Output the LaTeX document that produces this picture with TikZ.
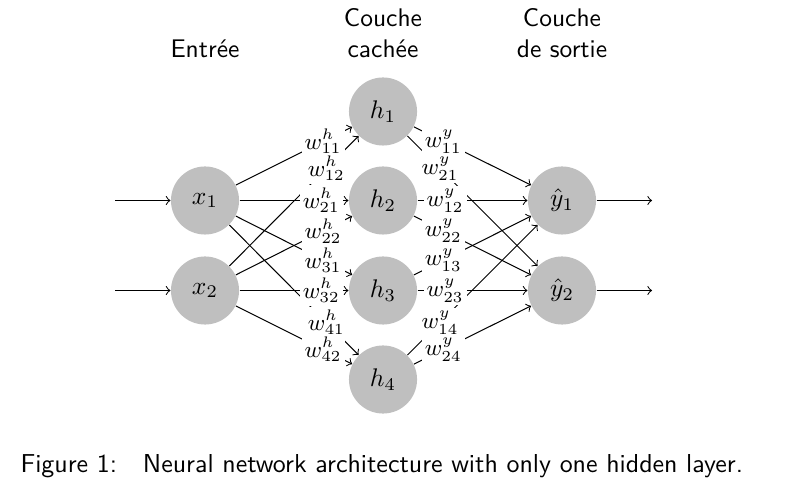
\documentclass[tikz,border=0pt]{standalone}
\begin{document}
\begin{tikzpicture}[x=0.3922pt,y=-0.3922pt,
  neuron/.style={circle,fill=black!25,minimum size=26.7pt,inner sep=0pt},
  wlab/.style={fill=white,inner sep=1.2pt,font=\small},
  title/.style={anchor=south,align=center,inner sep=0pt,font=\sffamily},
  conn/.style={->}]
\useasboundingbox (0,0) rectangle (786,497);
% nodes
\node[neuron] (x1) at (205,200.5) {$x_1$};
\node[neuron] (x2) at (205,290.5) {$x_2$};
\node[neuron] (h1) at (383,111.5) {$h_1$};
\node[neuron] (h2) at (383,200.5) {$h_2$};
\node[neuron] (h3) at (383,290.5) {$h_3$};
\node[neuron] (h4) at (383,379.5) {$h_4$};
\node[neuron] (y1) at (562,200.5) {$\hat{y}_1$};
\node[neuron] (y2) at (562,290.5) {$\hat{y}_2$};
% free ends
\coordinate (in1) at (115,200.5);
\coordinate (in2) at (115,290.5);
\coordinate (out1) at (652,200.5);
\coordinate (out2) at (652,290.5);
\draw[conn] (in1) -- (x1);
\draw[conn] (in2) -- (x2);
\draw[conn] (y1) -- (out1);
\draw[conn] (y2) -- (out2);
% connections
\foreach \j in {1,...,4} {
  \foreach \i in {1,2} {
    \draw[conn] (x\i) -- (h\j);
    \draw[conn] (h\j) -- (y\i);
  }
}
\foreach \j in {1,...,4} {
  \foreach \i in {1,2} {
    \path (x\i) -- node[wlab,pos=0.75] {$w^h_{\j\i}$} (h\j);
    \path (h\j) -- node[wlab,pos=0.25] {$w^y_{\i\j}$} (y\i);
  }
}
% titles
\node[title] (tin) at (205,58) {Entrée};
\node[title] (thid) at (383,58) {Couche\\cachée};
\node[title] (tout) at (562,58) {Couche\\de sortie};
% caption
\node[anchor=base west,inner sep=0pt,font=\sffamily\fontsize{10.17}{12}\selectfont] (cap) at (20,472) {Figure 1:\quad Neural network architecture with only one hidden layer.};
\end{tikzpicture}
\end{document}
